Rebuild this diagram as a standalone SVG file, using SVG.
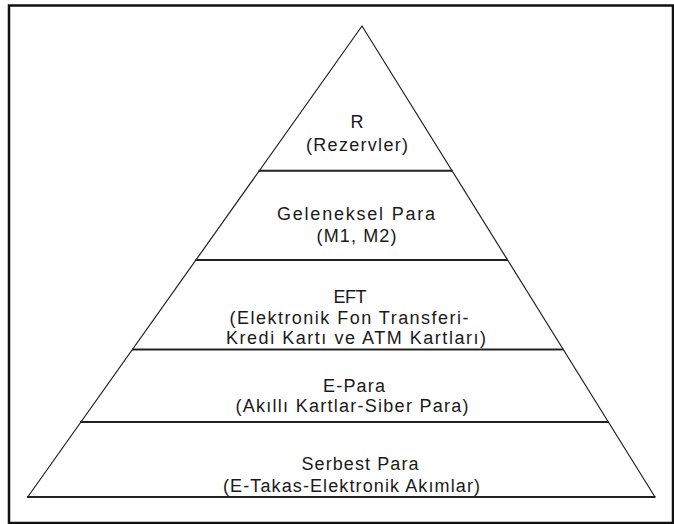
<svg xmlns="http://www.w3.org/2000/svg" width="674" height="524" viewBox="0 0 674 524">
  <style>
    .t { font-family: "Liberation Sans", Arial, sans-serif; font-size: 18px; fill: #1a1a1a; text-anchor: middle; }
    .div { stroke: #222; stroke-width: 2; fill: none; }
    .side { stroke: #222; stroke-width: 1.2; fill: none; }
  </style>
  <rect x="0" y="0" width="674" height="524" fill="#ffffff"/>
  <rect id="frame" x="9" y="5.5" width="664" height="517.5" fill="none" stroke="#111" stroke-width="2.5"/>
  <g id="pyramid">
    <polyline class="side" points="27.7,497 362,26 655,497"/>
    <line class="div" x1="258.5" y1="170.7" x2="452.5" y2="170.7"/>
    <line class="div" x1="195.5" y1="260" x2="508" y2="260"/>
    <line class="div" x1="132" y1="349.5" x2="563.5" y2="349.5"/>
    <line class="div" x1="80" y1="422" x2="609" y2="422"/>
    <line class="div" x1="27" y1="497" x2="655.5" y2="497"/>
  </g>
  <g id="tier-r">
    <text class="t" x="357" y="128">R</text>
    <text class="t" x="357" y="151" textLength="102" lengthAdjust="spacing">(Rezervler)</text>
  </g>
  <g id="tier-geleneksel">
    <text class="t" x="356" y="220" textLength="158" lengthAdjust="spacing">Geleneksel Para</text>
    <text class="t" x="356.5" y="242" textLength="80" lengthAdjust="spacing">(M1, M2)</text>
  </g>
  <g id="tier-eft">
    <text class="t" x="350" y="303" textLength="33" lengthAdjust="spacing">EFT</text>
    <text class="t" x="349" y="323.5" textLength="239" lengthAdjust="spacing">(Elektronik Fon Transferi-</text>
    <text class="t" x="356" y="344" textLength="260" lengthAdjust="spacing">Kredi Kartı ve ATM Kartları)</text>
  </g>
  <g id="tier-epara">
    <text class="t" x="354" y="392" textLength="62" lengthAdjust="spacing">E-Para</text>
    <text class="t" x="352" y="412" textLength="233" lengthAdjust="spacing">(Akıllı Kartlar-Siber Para)</text>
  </g>
  <g id="tier-serbest">
    <text class="t" x="360" y="470" textLength="117" lengthAdjust="spacing">Serbest Para</text>
    <text class="t" x="351.5" y="491.5" textLength="257" lengthAdjust="spacing">(E-Takas-Elektronik Akımlar)</text>
  </g>
  <g id="connectors"></g>
</svg>
